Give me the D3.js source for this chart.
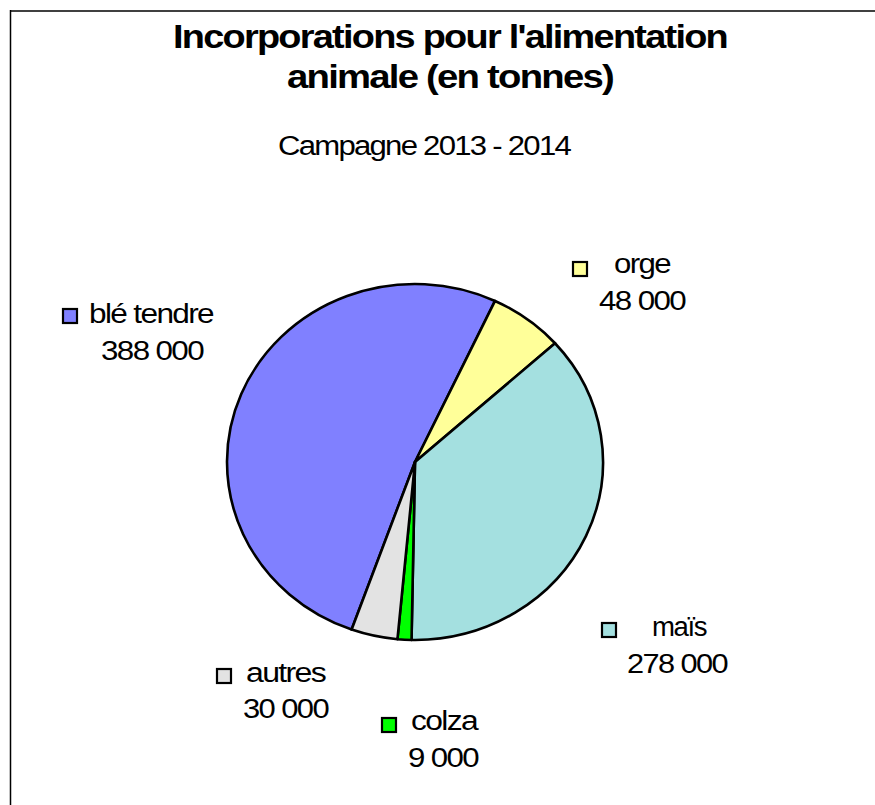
<!DOCTYPE html>
<html>
<head>
<meta charset="utf-8">
<script src="https://cdn.jsdelivr.net/npm/d3@7"></script>
<style>
  html, body { margin: 0; padding: 0; background: #fff; }
  svg { display: block; }
  text { font-family: "Liberation Sans", Arial, sans-serif; fill: #000; }
</style>
</head>
<body>
<svg id="chart" width="875" height="805"></svg>
<script>
// data
var categories = ["blé tendre", "orge", "maïs", "colza", "autres"];
var values = [388000, 48000, 278000, 9000, 30000];
var colors = ["#8080ff", "#ffff99", "#a4e0e0", "#00ff00", "#e3e3e3"];
var titleLines = ["Incorporations pour l'alimentation", "animale (en tonnes)"];
var subtitle = "Campagne 2013 - 2014";

// label layout: [square x, square y, name x0, name x1, name baseline, value x0, value x1, value baseline]
var labelLayout = {
    "blé tendre": [62, 308, 89, 213, 323, 101, 203, 360],
    "orge": [572, 261, 614, 670, 273, 599, 685, 310],
    "maïs": [601, 622, 652, 706, 636, 627, 727, 673],
    "colza": [381, 717, 411, 477, 730, 408, 478, 767],
    "autres": [216, 668, 246, 325, 682, 243, 328, 718]
};

var svg = d3.select("#chart"),
    CX = 415, CY = 462, RX = 188, RY = 178,
    DEG = Math.PI / 180,
    START = -160.3;

var fmt = d3.formatLocale({ decimal: ",", thousands: " ", grouping: [3], currency: ["", " €"] }).format(",d");

// squeezed text: glyphs a bit wide, spacing tight, like the original export
function fitText(x0, x1, y, size, str, bold, spacing) {
    return svg.append("text")
        .attr("x", x0).attr("y", y)
        .attr("font-size", size)
        .attr("font-weight", bold ? "bold" : null)
        .style("letter-spacing", spacing + "px")
        .attr("textLength", x1 - x0)
        .attr("lengthAdjust", "spacingAndGlyphs")
        .text(str);
}

// frame (only top and left edges are visible)
svg.append("line").attr("x1", 10).attr("x2", 875).attr("y1", 11).attr("y2", 11)
    .attr("stroke", "#404040").attr("stroke-width", 2);
svg.append("line").attr("x1", 10.5).attr("x2", 10.5).attr("y1", 10).attr("y2", 805)
    .attr("stroke", "#000").attr("stroke-width", 1.5);

// titles
fitText(173, 727, 48, 32.5, titleLines[0], true, -1.5);
fitText(287, 613, 88, 32.5, titleLines[1], true, -1.5);
fitText(278, 570, 155, 27, subtitle, false, -1.5);

// pie
var rows = categories.map(function (c, i) {
    return { name: c, value: values[i], color: colors[i] };
});
var pie = d3.pie().sort(null).value(function (d) { return d.value; })
    .startAngle(START * DEG).endAngle((START + 360) * DEG);
var arc = d3.arc().innerRadius(0).outerRadius(RY);

var g = svg.append("g")
    .attr("transform", "translate(" + CX + "," + CY + ") scale(" + (RX / RY) + ",1)");
g.selectAll("path").data(pie(rows)).enter().append("path")
    .attr("d", arc)
    .attr("fill", function (d) { return d.data.color; })
    .attr("stroke", "#000")
    .attr("stroke-width", 2.6)
    .attr("stroke-linejoin", "round")
    .attr("vector-effect", "non-scaling-stroke");

// labels
rows.forEach(function (d) {
    var p = labelLayout[d.name];
    svg.append("rect")
        .attr("x", p[0] + 1).attr("y", p[1] + 1)
        .attr("width", 14).attr("height", 14)
        .attr("fill", d.color).attr("stroke", "#000").attr("stroke-width", 2.2);
    fitText(p[2], p[3], p[4], 27, d.name, false, -1.4);
    fitText(p[5], p[6], p[7], 27, fmt(d.value), false, -1.4);
});
</script>
</body>
</html>
